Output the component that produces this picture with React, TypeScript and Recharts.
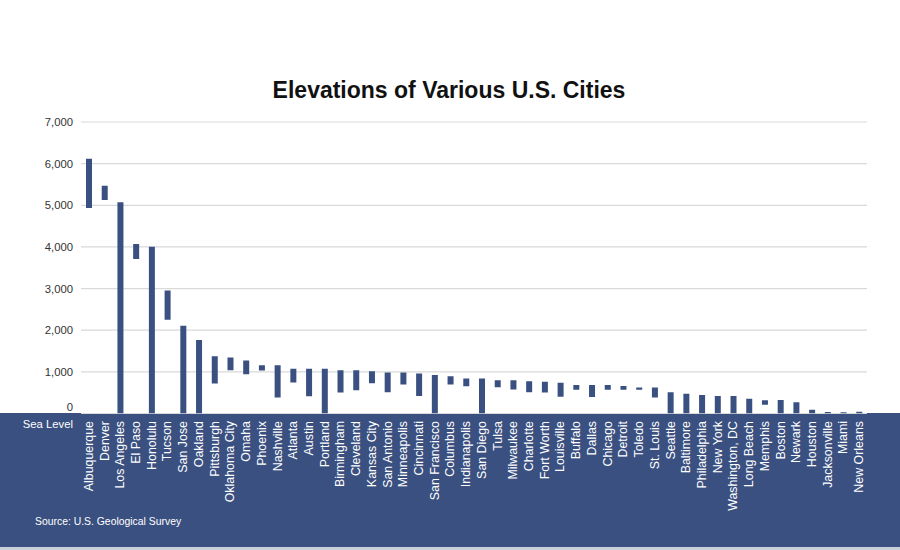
import React from "react";
import { BarChart, Bar, XAxis, YAxis, CartesianGrid } from "recharts";

const cities = [
  "Albuquerque", "Denver", "Los Angeles", "El Paso", "Honolulu", "Tucson", "San Jose", "Oakland",
  "Pittsburgh", "Oklahoma City", "Omaha", "Phoenix", "Nashville", "Atlanta", "Austin", "Portland",
  "Birmingham", "Cleveland", "Kansas City", "San Antonio", "Minneapolis", "Cincinnati", "San Francisco",
  "Columbus", "Indianapolis", "San Diego", "Tulsa", "Milwaukee", "Charlotte", "Fort Worth", "Louisville",
  "Buffalo", "Dallas", "Chicago", "Detroit", "Toledo", "St. Louis", "Seattle", "Baltimore", "Philadelphia",
  "New York", "Washington, DC", "Long Beach", "Memphis", "Boston", "Newark", "Houston", "Jacksonville",
  "Miami", "New Orleans",
];

const highs = [
  6120, 5470, 5075, 4070, 4005, 2955, 2110, 1765,
  1377, 1346, 1274, 1161, 1161, 1072, 1072, 1072,
  1041, 1041, 1015, 985, 985, 960, 925,
  895, 840, 840, 800, 800, 775, 762, 738,
  683, 683, 683, 659, 627, 627, 508, 475, 444,
  420, 420, 355, 316, 324, 268, 91, 36,
  29, 43,
];

const lows = [
  4935, 5128, 0, 3712, 0, 2250, 0, 0,
  721, 1041, 945, 1034, 385, 745, 416, 0,
  505, 560, 728, 512, 695, 420, 0,
  695, 655, 0, 631, 575, 512, 507, 401,
  570, 394, 570, 570, 570, 387, 0, 0, 0,
  0, 0, 0, 211, 0, 0, 0, 0,
  0, 0,
];

const yTicks = [0, 1000, 2000, 3000, 4000, 5000, 6000, 7000];

const data = cities.map((city, i) => ({ city, range: [lows[i], highs[i]] }));

const BLUE = "#3a5080";
const FONT = "Arial, 'Liberation Sans', sans-serif";

const YTick = (props: any) => {
  const { x, y, payload } = props;
  const v = payload.value as number;
  return (
    <text
      x={73}
      y={v === 0 ? y - 7 : y}
      dy={4}
      textAnchor="end"
      fontSize={11.3}
      fontFamily={FONT}
      fill="#333"
    >
      {v.toLocaleString("en-US")}
    </text>
  );
};

const XTick = (props: any) => {
  const { x, payload } = props;
  const yy = 421;
  return (
    <text
      x={x + 4}
      y={yy}
      transform={`rotate(-90, ${x + 4}, ${yy})`}
      textAnchor="end"
      fontSize={12.4}
      fontFamily={FONT}
      fill="#ffffff"
    >
      {payload.value}
    </text>
  );
};

export default function App() {
  return (
    <div
      style={{
        position: "fixed",
        left: 0,
        top: 0,
        width: 900,
        height: 550,
        background: "#ffffff",
        overflow: "hidden",
        fontFamily: FONT,
      }}
    >
      <div
        style={{
          position: "absolute",
          left: 0,
          top: 413,
          width: 900,
          height: 134,
          background: BLUE,
        }}
      />
      <div
        style={{
          position: "absolute",
          left: 0,
          top: 547,
          width: 900,
          height: 3,
          background: "#c9cfdb",
        }}
      />
      <div
        style={{
          position: "absolute",
          left: 0,
          top: 76,
          width: 898,
          textAlign: "center",
          fontSize: 23,
          fontWeight: "bold",
          color: "#111",
          lineHeight: "28px",
        }}
      >
        Elevations of Various U.S. Cities
      </div>
      <div
        style={{
          position: "absolute",
          right: 900 - 73,
          top: 416,
          fontSize: 11.3,
          color: "#ffffff",
          lineHeight: "16px",
          whiteSpace: "nowrap",
        }}
      >
        Sea Level
      </div>
      <div
        style={{
          position: "absolute",
          left: 35,
          top: 514,
          fontSize: 10.4,
          color: "#ffffff",
          lineHeight: "16px",
          whiteSpace: "nowrap",
        }}
      >
        Source: U.S. Geological Survey
      </div>
      <div style={{ position: "absolute", left: 0, top: 0 }}>
        <BarChart
          width={900}
          height={550}
          data={data}
          margin={{ top: 122, right: 33, left: 0, bottom: 0 }}
          barCategoryGap={0}
        >
          <CartesianGrid vertical={false} stroke="#d9d9d9" strokeWidth={1.2} />
          <XAxis
            dataKey="city"
            interval={0}
            axisLine={false}
            tickLine={false}
            height={136.5}
            tick={<XTick />}
          />
          <YAxis
            domain={[0, 7000]}
            ticks={yTicks}
            width={81}
            axisLine={false}
            tickLine={false}
            tick={<YTick />}
            allowDataOverflow
          />
          <Bar dataKey="range" fill={BLUE} barSize={6} isAnimationActive={false} />
        </BarChart>
      </div>
    </div>
  );
}
